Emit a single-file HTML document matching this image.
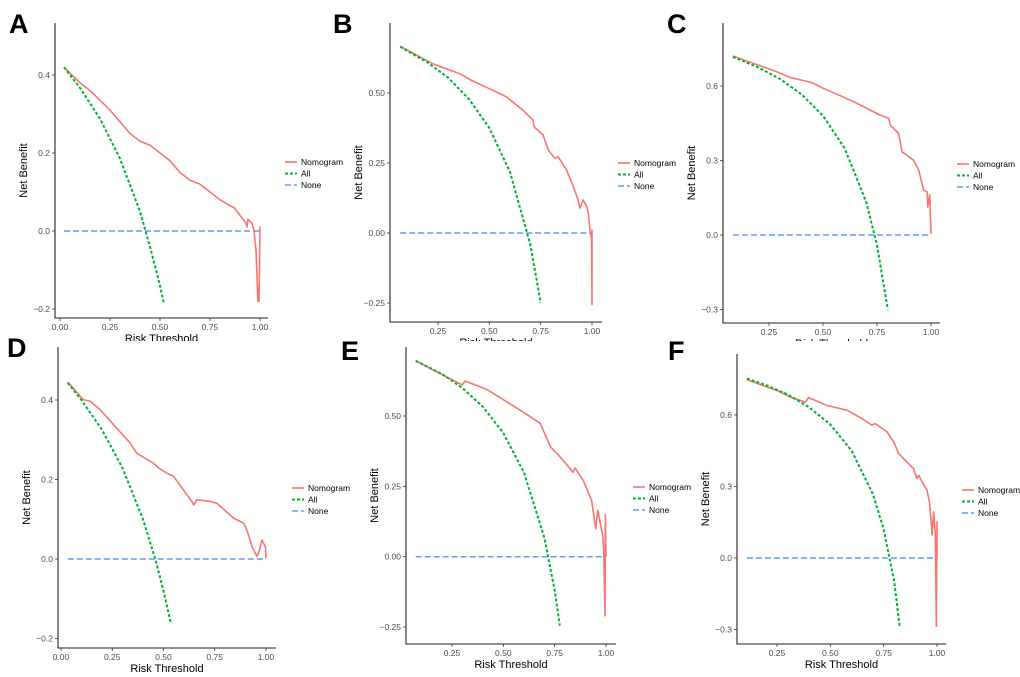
<!DOCTYPE html>
<html><head><meta charset="utf-8"><style>
html,body{margin:0;padding:0;background:#fff;}
svg{display:block;font-family:"Liberation Sans",Arial,sans-serif;}
</style></head><body>
<svg id="fig" width="1020" height="677" viewBox="0 0 1020 677" xmlns="http://www.w3.org/2000/svg"></svg>
<script>
const tA_nom=[0.02,0.1,0.15,0.25,0.35,0.4,0.45,0.5,0.55,0.6,0.65,0.7,0.75,0.8,0.85,0.87,0.9,0.93,0.935,0.94,0.96,0.97,0.98,0.99,0.995,1.0,1.0];
const vA_nom=[0.42,0.38,0.36,0.31,0.25,0.23,0.22,0.2,0.18,0.15,0.13,0.12,0.1,0.08,0.065,0.06,0.04,0.02,0.01,0.03,0.02,0.0,-0.05,-0.18,-0.18,0.01,0];
const tA_all=[0.02,0.1,0.2,0.3,0.4,0.45,0.5,0.52];
const vA_all=[0.42,0.367,0.288,0.186,0.05,-0.04,-0.14,-0.187];
const tA_none=[0.02,1.0];const vA_none=[0,0];

const tB_nom=[0.066,0.226,0.356,0.413,0.502,0.583,0.665,0.713,0.718,0.762,0.787,0.819,0.835,0.876,0.909,0.933,0.941,0.957,0.974,0.982,0.99,0.998,1.0,1.0];
const vB_nom=[0.667,0.604,0.569,0.545,0.515,0.486,0.438,0.403,0.379,0.35,0.296,0.267,0.272,0.225,0.166,0.118,0.089,0.118,0.095,0.071,0.012,-0.024,-0.255,0.012];
const tB_all=[0.066,0.2,0.3,0.4,0.5,0.6,0.7,0.75];
const vB_all=[0.665,0.609,0.554,0.479,0.375,0.219,-0.042,-0.25];
const tB_none=[0.066,1.0];const vB_none=[0,0];

const tC_nom=[0.083,0.284,0.346,0.447,0.501,0.641,0.765,0.804,0.811,0.85,0.866,0.92,0.943,0.966,0.982,0.985,0.994,1.0];
const vC_nom=[0.721,0.658,0.635,0.614,0.591,0.537,0.483,0.47,0.443,0.409,0.335,0.301,0.261,0.18,0.174,0.113,0.162,0.005];
const tC_all=[0.083,0.2,0.3,0.4,0.5,0.6,0.7,0.75,0.8];
const vC_all=[0.717,0.675,0.629,0.567,0.48,0.35,0.133,-0.04,-0.3];
const tC_none=[0.083,1.0];const vC_none=[0,0];

const tD_nom=[0.033,0.109,0.142,0.19,0.256,0.337,0.37,0.451,0.476,0.516,0.549,0.638,0.647,0.663,0.728,0.761,0.842,0.891,0.907,0.932,0.956,0.969,0.98,0.997,1.0];
const vD_nom=[0.445,0.401,0.397,0.376,0.338,0.292,0.266,0.241,0.229,0.216,0.208,0.145,0.136,0.149,0.145,0.14,0.103,0.09,0.073,0.031,0.006,0.023,0.048,0.031,0.002];
const tD_all=[0.033,0.1,0.2,0.3,0.4,0.46,0.5,0.535];
const vD_all=[0.443,0.4,0.325,0.229,0.1,0,-0.08,-0.16];
const tD_none=[0.033,1.0];const vD_none=[0,0];

const tE_nom=[0.073,0.18,0.30,0.315,0.42,0.59,0.68,0.70,0.73,0.77,0.84,0.85,0.89,0.93,0.95,0.96,0.985,0.99,0.995,0.997,1.0];
const vE_nom=[0.696,0.655,0.611,0.624,0.594,0.517,0.474,0.44,0.39,0.36,0.30,0.315,0.27,0.2,0.1,0.165,0.07,0,-0.21,0.15,0];
const tE_all=[0.073,0.2,0.3,0.4,0.5,0.6,0.7,0.75,0.775];
const vE_all=[0.696,0.65,0.6,0.533,0.44,0.3,0.067,-0.12,-0.245];
const tE_none=[0.073,1.0];const vE_none=[0,0];

const tF_nom=[0.109,0.25,0.313,0.383,0.398,0.484,0.578,0.648,0.695,0.711,0.766,0.797,0.82,0.89,0.906,0.914,0.93,0.953,0.966,0.977,0.984,0.992,0.997,1.0,1.0];
const vF_nom=[0.748,0.703,0.675,0.654,0.673,0.64,0.62,0.585,0.557,0.564,0.529,0.487,0.438,0.375,0.333,0.347,0.32,0.285,0.229,0.096,0.194,0.103,-0.287,0.152,0];
const tF_all=[0.109,0.2,0.3,0.4,0.5,0.6,0.7,0.75,0.8,0.825];
const vF_all=[0.753,0.725,0.686,0.633,0.56,0.45,0.267,0.12,-0.1,-0.29];
const tF_none=[0.109,1.0];const vF_none=[0,0];

const xTicksFull=[0,0.25,0.5,0.75,1];
const xLabelsFull=["0.00","0.25","0.50","0.75","1.00"];
const xTicksPart=[0.25,0.5,0.75,1];
const xLabelsPart=["0.25","0.50","0.75","1.00"];
const yTicksA=[-0.2,0,0.2,0.4];const yLabelsA=["\u22120.2","0.0","0.2","0.4"];
const yTicksB=[-0.25,0,0.25,0.5];const yLabelsB=["\u22120.25","0.00","0.25","0.50"];
const yTicksC=[-0.3,0,0.3,0.6];const yLabelsC=["\u22120.3","0.0","0.3","0.6"];
const seriesNames=["Nomogram","All","None"];

const NS="http://www.w3.org/2000/svg";
const svg=document.getElementById('fig');
function mk(tag,attrs,parent){const e=document.createElementNS(NS,tag);for(const k in attrs)e.setAttribute(k,attrs[k]);(parent||svg).appendChild(e);return e;}

const styles=[{c:"#F8766D",d:"",w:1.6},{c:"#00B233",d:"3,2",w:2},{c:"#619CFF",d:"6,3",w:1.5}];

function panel(p){
  const g=mk('g',{});
  
  
  const xs=t=>p.x0+(t-p.t0)*(p.x1-p.x0)/(p.t1-p.t0);
  const ys=v=>p.y0+(v-p.v0)*(p.y1-p.y0)/(p.v1-p.v0);
  const L=mk('text',{x:p.lx,y:p.ly,'font-size':27,'font-weight':'bold',fill:'#000'},g);L.textContent=p.id;
  
  const series=[[p.nt,p.nv],[p.at,p.av],[p.zt,p.zv]];
  [2,0,1].forEach(i=>{
    const [ts,vs]=series[i];
    const pts=ts.map((t,j)=>xs(t).toFixed(1)+','+ys(vs[j]).toFixed(1)).join(' ');
    const pl=mk('polyline',{points:pts,fill:'none',stroke:styles[i].c,'stroke-width':styles[i].w,'stroke-dasharray':styles[i].d,'stroke-linejoin':'round'},g);
    
    
  });
  const ax=mk('path',{d:`M${p.ax},${p.yTop} V${p.yBot} H${p.xr}`,stroke:'#222','stroke-width':1.1,fill:'none'},g);
  
  p.xt.forEach((t,i)=>{
    const x=xs(t);
    mk('line',{x1:x,x2:x,y1:p.yBot,y2:p.yBot+3,stroke:'#333','stroke-width':0.8},g);
    const tx=mk('text',{x:x,y:p.yBot+12,'font-size':8.5,fill:'#4d4d4d','text-anchor':'middle'},g);tx.textContent=p.xl[i];
    
  });
  p.yt.forEach((v,i)=>{
    const y=ys(v);
    mk('line',{x1:p.ax-3,x2:p.ax,y1:y,y2:y,stroke:'#333','stroke-width':0.8},g);
    const tx=mk('text',{x:p.ax-5,y:y+3,'font-size':8.5,fill:'#4d4d4d','text-anchor':'end'},g);tx.textContent=p.yl[i];
    
  });
  const xt=mk('text',{x:(p.ax+p.xr)/2,y:p.yBot+24,'font-size':11,fill:'#000','text-anchor':'middle'},g);xt.textContent='Risk Threshold';
  
  const ycx=p.ax-28,ycy=(p.yTop+p.yBot)/2;
  const yt=mk('text',{x:ycx,y:ycy,'font-size':11,fill:'#000','text-anchor':'middle',transform:`rotate(-90 ${ycx} ${ycy})`},g);yt.textContent='Net Benefit';
  
  seriesNames.forEach((n,i)=>{
    const y=p.legY+i*11.5;
    const ln=mk('line',{x1:p.legX,x2:p.legX+12,y1:y,y2:y,stroke:styles[i].c,'stroke-width':styles[i].w,'stroke-dasharray':styles[i].d},g);
    
    const tx=mk('text',{x:p.legX+16,y:y+3,'font-size':8.5,fill:'#000'},g);tx.textContent=n;
    
  });
}

panel({id:'A',lx:9,ly:33,ax:55,yTop:23,yBot:318,xr:268,t0:0,x0:60,t1:1,x1:260,v0:0,y0:231,v1:0.4,y1:75,
  nt:tA_nom,nv:vA_nom,at:tA_all,av:vA_all,zt:tA_none,zv:vA_none,xt:xTicksFull,xl:xLabelsFull,yt:yTicksA,yl:yLabelsA,legX:285,legY:162});
panel({id:'B',lx:333,ly:33,ax:390,yTop:23,yBot:322,xr:602,t0:0.25,x0:438,t1:1,x1:592,v0:0,y0:233,v1:0.5,y1:93,
  nt:tB_nom,nv:vB_nom,at:tB_all,av:vB_all,zt:tB_none,zv:vB_none,xt:xTicksPart,xl:xLabelsPart,yt:yTicksB,yl:yLabelsB,legX:618,legY:163});
panel({id:'C',lx:667,ly:33,ax:723,yTop:23,yBot:323,xr:940,t0:0.25,x0:769,t1:1,x1:931,v0:0,y0:235,v1:0.6,y1:86,
  nt:tC_nom,nv:vC_nom,at:tC_all,av:vC_all,zt:tC_none,zv:vC_none,xt:xTicksPart,xl:xLabelsPart,yt:yTicksC,yl:yLabelsC,legX:957,legY:164});
const cover=mk('rect',{x:0,y:341,width:1020,height:336,fill:'#fff'});

panel({id:'D',lx:7,ly:357,ax:58,yTop:347,yBot:648,xr:276,t0:0,x0:61,t1:1,x1:266,v0:0,y0:559,v1:0.4,y1:400,
  nt:tD_nom,nv:vD_nom,at:tD_all,av:vD_all,zt:tD_none,zv:vD_none,xt:xTicksFull,xl:xLabelsFull,yt:yTicksA,yl:yLabelsA,legX:292,legY:488});
panel({id:'E',lx:341,ly:360,ax:406,yTop:347,yBot:644,xr:616,t0:0.25,x0:452,t1:1,x1:606,v0:0,y0:556.7,v1:0.5,y1:416,
  nt:tE_nom,nv:vE_nom,at:tE_all,av:vE_all,zt:tE_none,zv:vE_none,xt:xTicksPart,xl:xLabelsPart,yt:yTicksB,yl:yLabelsB,legX:633,legY:487});
panel({id:'F',lx:668,ly:360,ax:737,yTop:354,yBot:644,xr:946,t0:0.25,x0:777,t1:1,x1:937,v0:0,y0:558,v1:0.6,y1:415,
  nt:tF_nom,nv:vF_nom,at:tF_all,av:vF_all,zt:tF_none,zv:vF_none,xt:xTicksPart,xl:xLabelsPart,yt:yTicksC,yl:yLabelsC,legX:962,legY:490});
</script>
</body></html>
